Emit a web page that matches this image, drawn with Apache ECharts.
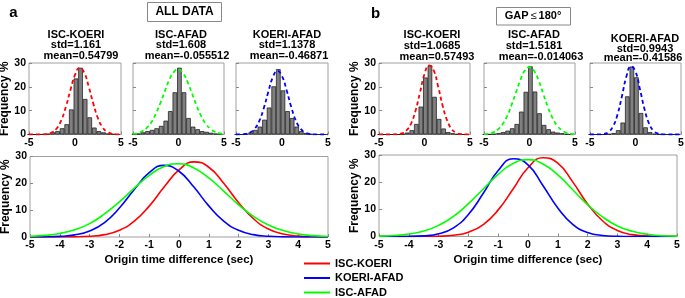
<!DOCTYPE html>
<html>
<head>
<meta charset="utf-8">
<script src="https://cdn.jsdelivr.net/npm/echarts@6/dist/echarts.min.js"></script>
<style>
  html, body { margin: 0; padding: 0; background: #fff; }
  #chart { width: 685px; height: 298px; }
</style>
</head>
<body>
<div id="chart"></div>
<script>
var curveX = [-5, -4.5, -4, -3.5, -3, -2.5, -2, -1.5, -1, -0.5, 0, 0.5, 1, 1.5, 2, 2.5, 3, 3.5, 4, 4.5, 5]
// histogram bin centres (sec), bins 0.5 s wide
var binX = [-4.9, -4.4, -3.9, -3.4, -2.9, -2.4, -1.9, -1.4, -0.9, -0.4, 0.1, 0.6, 1.1, 1.6, 2.1, 2.6, 3.1, 3.6, 4.1, 4.6]

// fitted curves, frequency %
var allIscKoeri = [0, 0, 0.01, 0.06, 0.26, 0.89, 2.5, 5.9, 11.5, 18.6, 25.0, 28.0, 26.0, 20.0, 12.8, 6.8, 3.0, 1.1, 0.34, 0.09, 0.02]
var allKoeriAfad = [0.01, 0.05, 0.22, 0.78, 2.26, 5.4, 10.8, 17.7, 24.0, 26.7, 24.5, 18.6, 11.6, 5.9, 2.5, 0.89, 0.27, 0.06, 0.01, 0, 0]
var allIscAfad = [0.24, 0.59, 1.33, 2.7, 5.0, 8.6, 13.1, 18.2, 23.0, 26.3, 27.3, 25.7, 22.0, 17.1, 12.0, 7.7, 4.5, 2.4, 1.15, 0.5, 0.19]
var gapIscKoeri = [0, 0, 0, 0.02, 0.11, 0.46, 1.6, 4.4, 9.8, 17.5, 25.3, 29.0, 27.0, 20.1, 12.0, 5.8, 2.2, 0.69, 0.17, 0.03, 0]
var gapKoeriAfad = [0, 0.01, 0.04, 0.24, 0.98, 3.2, 8.1, 15.9, 24.3, 28.6, 26.4, 18.8, 10.5, 4.5, 1.5, 0.39, 0.08, 0.01, 0, 0, 0]
var gapIscAfad = [0.13, 0.34, 0.9, 2.0, 4.1, 7.4, 12.1, 17.5, 22.9, 26.9, 28.3, 26.7, 22.7, 17.2, 11.7, 7.2, 3.9, 1.9, 0.8, 0.3, 0.12]

// histograms, frequency %
var histAllIscKoeri = [0, 0, 0, 0.1, 0.3, 0.9, 1.4, 2.6, 4.3, 10.5, 23.5, 28, 14.9, 7.2, 2.9, 1.4, 0.9, 0.4, 0.2, 0]
var histAllIscAfad = [0.2, 0.4, 0.9, 1.4, 1.9, 2.6, 3.6, 5.8, 9.8, 17.7, 28, 17.7, 6.9, 3.3, 2.2, 1.4, 1.1, 0.7, 0.4, 0.2]
var histAllKoeriAfad = [0, 0, 0.3, 0.9, 1.9, 3.3, 6.2, 11.3, 20.2, 27.4, 18.5, 9.8, 6.9, 3.3, 1.4, 0.6, 0.2, 0, 0, 0]
var histGapIscKoeri = [0, 0, 0, 0, 0, 0.2, 0.8, 1.8, 4.4, 11.7, 23.9, 29, 15.8, 6.5, 2.5, 1.0, 0.5, 0.2, 0, 0]
var histGapIscAfad = [0, 0.1, 0.3, 0.6, 1.0, 1.6, 2.6, 4.4, 9.6, 17.9, 28.6, 18.0, 8.9, 4.0, 2.2, 1.2, 0.8, 0.5, 0.2, 0]
var histGapKoeriAfad = [0, 0, 0, 0, 0.2, 0.6, 1.8, 5, 16, 28.5, 24, 9, 3, 1, 0.3, 0.1, 0, 0, 0, 0]

var pairNames = ['ISC-KOERI', 'KOERI-AFAD', 'ISC-AFAD']
var panelTitles = [
  ['ISC-KOERI', 'std=1.161', 'mean=0.54799'],
  ['ISC-AFAD', 'std=1.608', 'mean=-0.055512'],
  ['KOERI-AFAD', 'std=1.1378', 'mean=-0.46871'],
  ['ISC-KOERI', 'std=1.0685', 'mean=0.57493'],
  ['ISC-AFAD', 'std=1.5181', 'mean=-0.014063'],
  ['KOERI-AFAD', 'std=0.9943', 'mean=-0.41586'],
]

var RED = '#ff0000', BLUE = '#0000ff', GREEN = '#00ff00'
var FONT = '"Liberation Sans", Arial, sans-serif'

var smallGrids = [
  { left: 29, top: 63, width: 92, height: 71.5 },
  { left: 133, top: 63, width: 91, height: 71.5 },
  { left: 236, top: 63, width: 92, height: 71.5 },
  { left: 379, top: 63, width: 91, height: 71.5 },
  { left: 484, top: 63, width: 91, height: 71.5 },
  { left: 590, top: 63, width: 91, height: 71.5 },
]
var bigGrids = [
  { left: 30, top: 156.5, width: 298, height: 80.5 },
  { left: 379, top: 155, width: 298, height: 81.5 },
]

function pairs(xs, ys) {
  return xs.map(function (x, i) { return [x, ys[i]] })
}

function gridCfg(g) {
  return Object.assign({
    show: true,
    borderColor: '#a0a0a0',
    borderWidth: 1,
    outerBoundsMode: 'none',
    containLabel: false,
  }, g)
}

function xAxisCfg(idx, big) {
  return {
    type: 'value',
    gridIndex: idx,
    min: -5,
    max: 5,
    interval: big ? 1 : 5,
    axisLine: { show: false, onZero: false },
    axisTick: { show: true, inside: true, length: 3, lineStyle: { color: '#888' } },
    splitLine: { show: false },
    axisLabel: { fontSize: 10.5, fontWeight: 'bold', color: '#000', margin: 3, fontFamily: FONT },
    name: big ? 'Origin time difference (sec)' : '',
    nameLocation: 'middle',
    nameGap: 17,
    nameTextStyle: { fontSize: 11.5, fontWeight: 'bold', color: '#000', fontFamily: FONT },
  }
}

function yAxisCfg(idx, showLabel) {
  return {
    type: 'value',
    gridIndex: idx,
    min: 0,
    max: 30,
    interval: 10,
    axisLine: { show: false, onZero: false },
    axisTick: { show: true, inside: true, length: 3, lineStyle: { color: '#888' } },
    splitLine: { show: false },
    axisLabel: { show: showLabel, fontSize: 10.5, fontWeight: 'bold', color: '#000', margin: 3, fontFamily: FONT },
    name: showLabel ? 'Frequency %' : '',
    nameLocation: 'middle',
    nameRotate: 90,
    nameGap: 15,
    nameTextStyle: { fontSize: 12, fontWeight: 'bold', color: '#000', fontFamily: FONT },
  }
}

var hists = [histAllIscKoeri, histAllIscAfad, histAllKoeriAfad, histGapIscKoeri, histGapIscAfad, histGapKoeriAfad]
var fits = [allIscKoeri, allIscAfad, allKoeriAfad, gapIscKoeri, gapIscAfad, gapKoeriAfad]
var fitColors = [RED, GREEN, BLUE, RED, GREEN, BLUE]

var grids = [], xAxes = [], yAxes = [], series = []

smallGrids.forEach(function (g, i) {
  grids.push(gridCfg(g))
  xAxes.push(xAxisCfg(i, false))
  yAxes.push(yAxisCfg(i, i === 0 || i === 3))
  series.push({
    type: 'bar',
    xAxisIndex: i,
    yAxisIndex: i,
    data: pairs(binX, hists[i]),
    barWidth: g.width / 20,
    itemStyle: { color: '#808080', borderColor: '#111', borderWidth: 0.7 },
    silent: true,
    z: 2,
  })
  series.push({
    type: 'line',
    xAxisIndex: i,
    yAxisIndex: i,
    data: pairs(curveX, fits[i]),
    smooth: true,
    symbol: 'none',
    lineStyle: { color: fitColors[i], width: 1.8, type: [4, 3] },
    silent: true,
    z: 3,
  })
})

var bigCurves = [
  [allIscKoeri, allKoeriAfad, allIscAfad],
  [gapIscKoeri, gapKoeriAfad, gapIscAfad],
]
var curveColors = [RED, BLUE, GREEN]

bigGrids.forEach(function (g, k) {
  var idx = 6 + k
  grids.push(gridCfg(g))
  xAxes.push(xAxisCfg(idx, true))
  yAxes.push(yAxisCfg(idx, true))
  bigCurves[k].forEach(function (ys, j) {
    series.push({
      name: pairNames[j],
      type: 'line',
      xAxisIndex: idx,
      yAxisIndex: idx,
      data: pairs(curveX, ys),
      smooth: true,
      symbol: 'none',
      color: curveColors[j],
      lineStyle: { color: curveColors[j], width: 1.6 },
      silent: true,
    })
  })
})

// panel headings
var titleX = [76, 181, 287, 432, 534, 645]
var titleY = [[35, 45, 55.5], [35, 45, 55.5], [35, 45, 55.5], [35, 46, 56.5], [35, 46, 56.5], [39, 49, 58]]
var lastShift = [5, 6, 2, 5, 7, -2]
var graphics = []
panelTitles.forEach(function (lines, i) {
  lines.forEach(function (t, j) {
    graphics.push({
      type: 'text',
      x: titleX[i] + (j === 2 ? lastShift[i] : 0),
      y: titleY[i][j],
      style: {
        text: t,
        font: 'bold 11px ' + FONT,
        fill: '#000',
        textAlign: 'center',
        textVerticalAlign: 'middle',
      },
    })
  })
})

graphics.push(
  { type: 'text', x: 13.5, y: 13, style: { text: 'a', font: 'bold 15px ' + FONT, fill: '#000', textAlign: 'center', textVerticalAlign: 'middle' } },
  { type: 'text', x: 375.5, y: 13.5, style: { text: 'b', font: 'bold 15px ' + FONT, fill: '#000', textAlign: 'center', textVerticalAlign: 'middle' } },
  { type: 'rect', shape: { x: 147.5, y: 2.5, width: 74, height: 19 }, style: { fill: '#fff', stroke: '#888', lineWidth: 1 } },
  { type: 'text', x: 184.5, y: 12, style: { text: 'ALL DATA', font: 'bold 12px ' + FONT, fill: '#000', textAlign: 'center', textVerticalAlign: 'middle' } },
  { type: 'rect', shape: { x: 496.5, y: 7.5, width: 74, height: 17.5 }, style: { fill: '#fff', stroke: '#888', lineWidth: 1 } },
  {
    type: 'text', x: 533, y: 16,
    style: {
      text: '{b|GAP}{n|≤}{b|180°}',
      textAlign: 'center',
      textVerticalAlign: 'middle',
      rich: {
        b: { font: 'bold 11px ' + FONT, fill: '#000' },
        n: { font: '11px ' + FONT, fill: '#000', padding: [0, 2, 0, 2] },
      },
    },
  }
)

var chart = echarts.init(document.getElementById('chart'), null, { renderer: 'canvas' })
chart.setOption({
  animation: false,
  backgroundColor: '#fff',
  grid: grids,
  xAxis: xAxes,
  yAxis: yAxes,
  legend: {
    orient: 'vertical',
    left: 304,
    top: 257.5,
    height: 80,
    padding: 0,
    itemWidth: 26,
    itemHeight: 2,
    itemGap: 2.5,
    icon: 'rect',
    selectedMode: false,
    data: pairNames,
    textStyle: { fontSize: 11, lineHeight: 12, fontWeight: 'bold', color: '#000', fontFamily: FONT },
  },
  graphic: graphics,
  series: series,
})
</script>
</body>
</html>
